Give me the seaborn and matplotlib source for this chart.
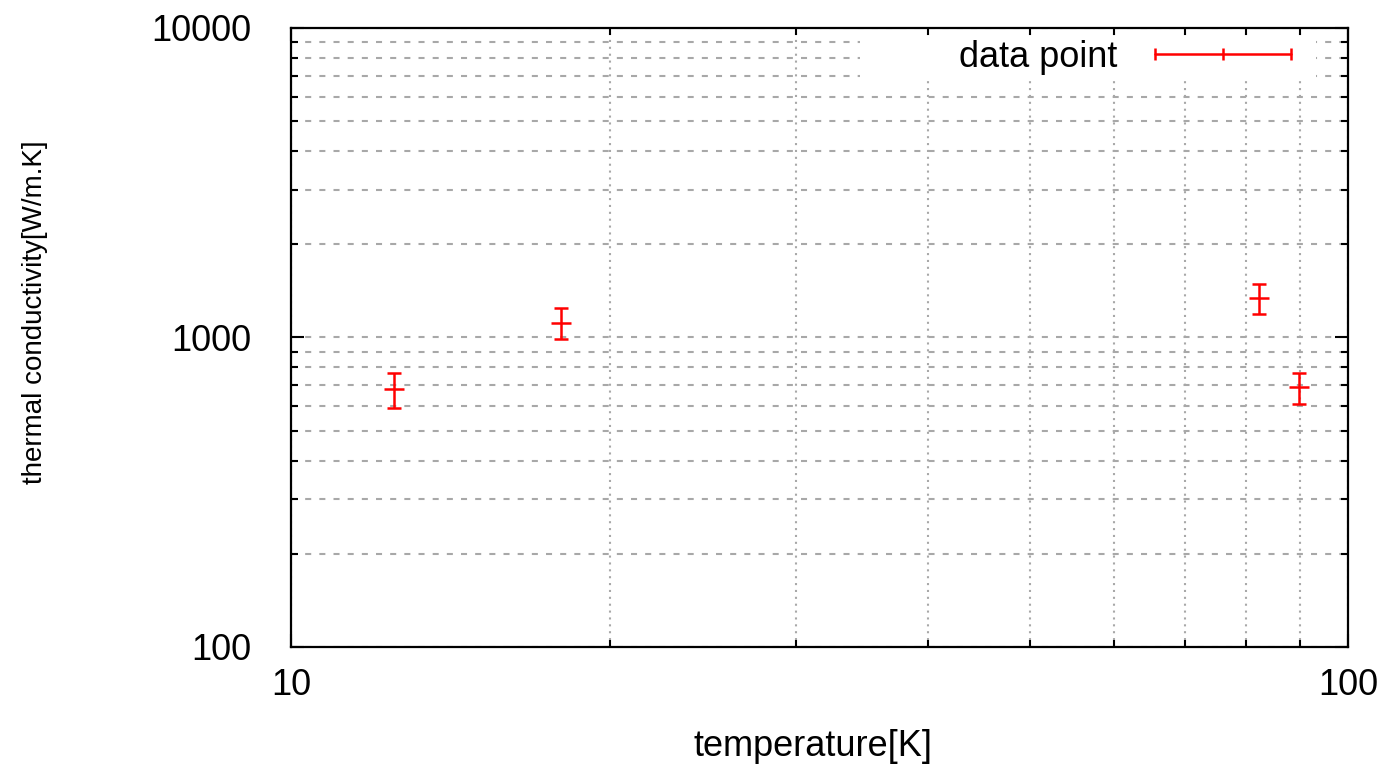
import numpy as np
import pandas as pd
import matplotlib
matplotlib.use('Agg')
import matplotlib.pyplot as plt
import seaborn as sns
from matplotlib.lines import Line2D
from matplotlib.patches import Rectangle

# values
temperature = [12.5, 18.0, 82.3, 89.7]
conductivity = [680, 1115, 1340, 690]
conductivity_err = [87, 130, 150, 80]

x_major = [10, 100]
x_major_labels = ['10', '100']
x_minor = [20, 30, 40, 50, 60, 70, 80, 90]
y_major = [100, 1000, 10000]
y_major_labels = ['100', '1000', '10000']
y_minor = [200, 300, 400, 500, 600, 700, 800, 900,
           2000, 3000, 4000, 5000, 6000, 7000, 8000, 9000]

RED = '#ff0000'
GRID = '#a8a8a8'

sns.set_theme(style='ticks')
plt.rcParams['font.family'] = ['Liberation Sans', 'DejaVu Sans']
plt.rcParams['text.color'] = 'black'
plt.rcParams['axes.labelcolor'] = 'black'
plt.rcParams['xtick.color'] = 'black'
plt.rcParams['ytick.color'] = 'black'

df = pd.DataFrame({'temperature': temperature,
                   'conductivity': conductivity,
                   'err': conductivity_err})

fig = plt.figure(figsize=(13.9, 7.68), dpi=100)
ax = fig.add_axes([0.2097, 0.1576, 0.7604, 0.806])

ax.set_xscale('log')
ax.set_yscale('log')
ax.set_xlim(10, 100)
ax.set_ylim(100, 10000)

# error bars + center ticks
ax.errorbar(df['temperature'], df['conductivity'], yerr=df['err'],
            fmt='none', ecolor=RED, elinewidth=1.8, capsize=5,
            capthick=1.8, zorder=3)
sns.scatterplot(data=df, x='temperature', y='conductivity', marker='_',
                s=200, color=RED, linewidth=1.8, ax=ax, zorder=4,
                legend=False)

# ticks and labels
ax.set_xticks(x_major)
ax.set_xticklabels(x_major_labels)
ax.set_xticks(x_minor, minor=True)
ax.set_xticklabels([''] * len(x_minor), minor=True)
ax.set_yticks(y_major)
ax.set_yticklabels(y_major_labels)
ax.set_yticks(y_minor, minor=True)
ax.set_yticklabels([''] * len(y_minor), minor=True)

ax.tick_params(which='both', direction='in', top=True, right=True,
               width=1.5, color='black', labelcolor='black')
ax.tick_params(which='major', length=9.5)
ax.tick_params(which='minor', length=5)
ax.tick_params(axis='x', which='major', labelsize=26, pad=15)
ax.tick_params(axis='y', which='major', labelsize=26, pad=29)

for sp in ax.spines.values():
    sp.set_linewidth(1.6)
    sp.set_color('black')
    sp.set_visible(True)

# grid: dotted verticals, dashed horizontals
ax.xaxis.grid(True, which='both', color=GRID, linewidth=1.5,
              linestyle=(0, (1, 2.3)))
ax.yaxis.grid(True, which='both', color=GRID, linewidth=1.5,
              linestyle=(0, (2.9, 3.9)))
ax.set_axisbelow(True)

ax.set_xlabel('temperature[K]', fontsize=26, color='black')
ax.xaxis.set_label_coords(0.493, -0.1616)
ax.xaxis.label.set_va('center')
ax.set_ylabel('thermal conductivity[W/m.K]', fontsize=20, color='black')
ax.yaxis.set_label_coords(-0.2427, 0.541)
ax.yaxis.label.set_va('center')

# key area blanks the grid like gnuplot's key box
ax.add_patch(Rectangle((0.538, 0.919), 0.431, 0.068, transform=ax.transAxes,
                       facecolor='white', edgecolor='none', zorder=0.7))

handle = Line2D([], [], color=RED, linewidth=1.8, marker='|',
                markersize=8, markeredgewidth=1.8)
ax.legend(handles=[handle], labels=['data point'], loc='center right',
          bbox_to_anchor=(0.9693, 0.953), frameon=False, markerfirst=False,
          numpoints=3, handlelength=4.35, handletextpad=0.75,
          borderpad=0.4, borderaxespad=0, fontsize=26, labelcolor='black')

fig.savefig('out.png', dpi=100, facecolor='white')
